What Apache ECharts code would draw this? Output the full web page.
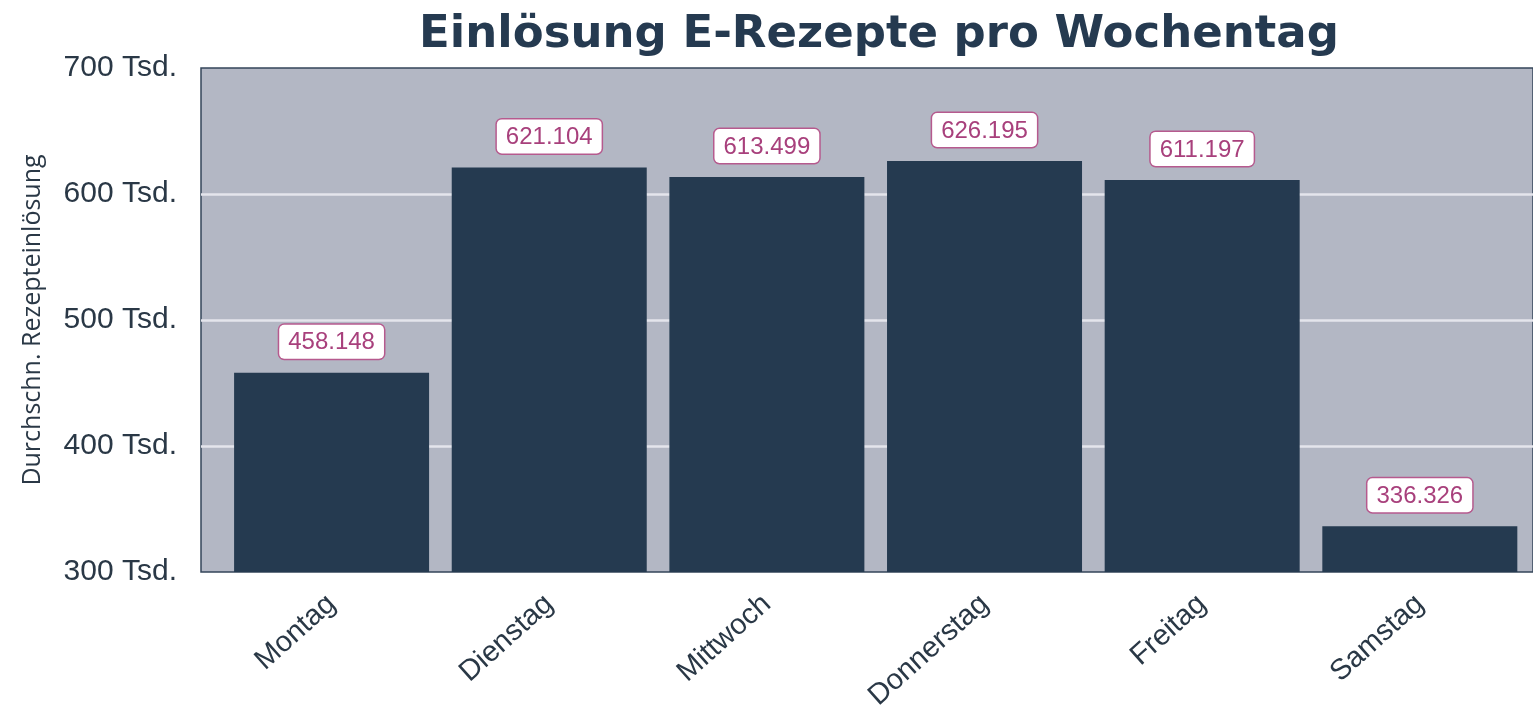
<!DOCTYPE html>
<html>
<head>
<meta charset="utf-8">
<script src="https://cdn.jsdelivr.net/npm/echarts@6/dist/echarts.min.js"></script>
<style>
  html, body { margin: 0; padding: 0; background: #fff; }
  #chart { width: 1533px; height: 715px; }
</style>
</head>
<body>
<div id="chart"></div>
<script>
// Wochentage und durchschnittliche Einlösungen
var tage = ['Montag', 'Dienstag', 'Mittwoch', 'Donnerstag', 'Freitag', 'Samstag'];
var einloesungen = [458148, 621104, 613499, 626195, 611197, 336326];
var yTicks = [300000, 400000, 500000, 600000, 700000];

var chart = echarts.init(document.getElementById('chart'));

// Balken auf einer Wertachse 1..6, damit der Rand links/rechts wie im Original bleibt
var balken = [];
for (var i = 0; i < einloesungen.length; i++) {
    balken.push([i + 1, einloesungen[i]]);
}

function zahlFormat(v) {
    return String(v).replace(/\B(?=(\d{3})+(?!\d))/g, '.');
}

var option = {
    animation: false,
    title: {
        text: 'Einlösung E-Rezepte pro Wochentag',
        left: 874,
        textAlign: 'center',
        top: 8,
        textStyle: {
            fontFamily: 'DejaVu Sans',
            fontWeight: 'bold',
            fontSize: 45,
            color: '#253a50'
        }
    },
    grid: {
        left: 201,
        top: 68,
        right: 0,
        bottom: 143,
        show: true,
        backgroundColor: '#b3b7c4',
        borderColor: '#34465a',
        borderWidth: 1.5
    },
    xAxis: {
        type: 'value',
        min: 0.4,
        max: 6.52,
        splitLine: { show: false },
        axisLine: { show: false },
        axisTick: { show: false },
        axisLabel: {
            customValues: [1, 2, 3, 4, 5, 6],
            formatter: function (v) { return tage[Math.round(v) - 1]; },
            rotate: 42,
            margin: 28,
            padding: [0, 0, 0, 10],
            fontFamily: 'Liberation Sans',
            fontSize: 29,
            color: '#2a3846'
        }
    },
    yAxis: {
        type: 'value',
        min: yTicks[0],
        max: yTicks[yTicks.length - 1],
        interval: 100000,
        name: 'Durchschn. Rezepteinlösung',
        nameLocation: 'middle',
        nameGap: 156,
        nameTextStyle: {
            fontFamily: 'Open Sans',
            fontSize: 25,
            color: '#2a3846'
        },
        axisLine: { show: false },
        axisTick: { show: false },
        axisLabel: {
            margin: 24,
            fontFamily: 'Liberation Sans',
            fontSize: 30,
            color: '#2a3846',
            formatter: function (v) { return (v / 1000) + ' Tsd.'; }
        },
        splitLine: {
            showMinLine: false,
            showMaxLine: false,
            lineStyle: { color: '#e4e5ec', width: 2.5 }
        }
    },
    series: [{
        type: 'bar',
        data: balken,
        barWidth: 195,
        itemStyle: { color: '#253a50' },
        label: {
            show: true,
            position: 'top',
            distance: 14,
            formatter: function (p) { return zahlFormat(p.value[1]); },
            fontFamily: 'Liberation Sans',
            fontSize: 24,
            color: '#a8407c',
            backgroundColor: '#ffffff',
            borderColor: '#b65a8e',
            borderWidth: 1.5,
            borderRadius: 5,
            padding: [6, 9, 4, 9]
        }
    }]
};

chart.setOption(option);
</script>
</body>
</html>
